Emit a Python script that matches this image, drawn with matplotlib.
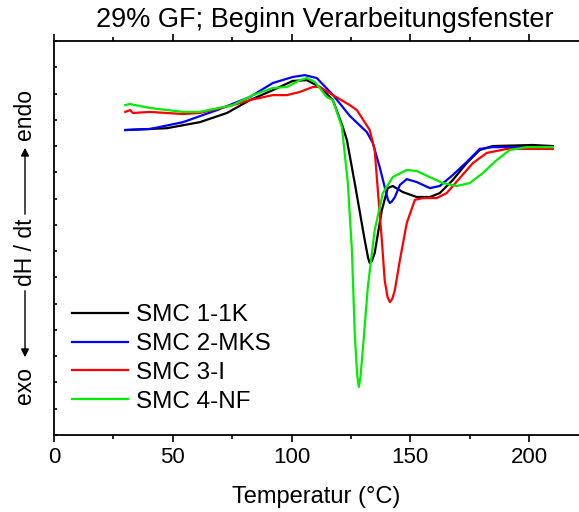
import matplotlib
matplotlib.use('Agg')
import matplotlib.pyplot as plt
import numpy as np

plt.rcParams['font.family'] = ['Liberation Sans', 'DejaVu Sans']

# DSC curves, temperature in °C and heat flow in arbitrary units
t_1k = [30, 47.5, 61.4, 72.8, 82.5, 92.1, 100.5, 106.4, 111.9, 117.4, 121.6, 123.3,
        126.6, 130.8, 132.2, 132.9, 133.8, 135.0, 138.0, 140.5, 142.6, 146.8, 152.7,
        158.2, 162.4, 167.9, 173.7, 179.2, 184.7, 201.5, 210]
y_1k = [11.61, 11.68, 11.91, 12.26, 12.75, 13.13, 13.48, 13.51, 13.25, 12.75, 11.72, 11.23,
        9.59, 7.42, 6.75, 6.55, 6.62, 6.93, 8.56, 9.40, 9.48, 9.25, 9.06,
        9.06, 9.21, 9.71, 10.35, 10.85, 11.00, 11.04, 11.00]

t_mks = [30, 40.4, 54.3, 68.6, 82.5, 92.1, 100.5, 105.6, 110.6, 117.4, 124.5, 131.7,
         134.2, 137.1, 139.2, 140.6, 141.4, 142.3, 143.5, 145.6, 148.5, 152.7, 158.2,
         162.4, 167.9, 173.7, 179.2, 184.7, 210]
y_mks = [11.61, 11.65, 11.91, 12.37, 12.87, 13.40, 13.63, 13.70, 13.59, 12.95, 12.15, 11.53,
         11.12, 10.20, 9.44, 8.95, 8.83, 8.90, 9.06, 9.52, 9.74, 9.63, 9.40,
         9.48, 9.90, 10.39, 10.89, 10.96, 10.96]

t_i = [30, 32.0, 33.2, 40.4, 54.3, 61.4, 75.3, 82.5, 92.1, 98.0, 103.5, 109.0, 111.9,
       117.4, 124.5, 127.5, 132.9, 135.0, 136.3, 138.0, 139.2, 140.4, 141.4, 142.4,
       143.5, 145.6, 148.5, 151.9, 155.2, 161.1, 165.3, 170.8, 176.3, 182.2, 190.6, 210]
y_i = [12.30, 12.37, 12.26, 12.30, 12.22, 12.26, 12.56, 12.75, 12.94, 12.94, 13.06, 13.25, 13.25,
       12.94, 12.56, 12.37, 11.61, 10.85, 9.33, 7.42, 5.90, 5.25, 5.06, 5.18,
       5.52, 6.66, 8.07, 8.95, 9.02, 9.02, 9.21, 9.78, 10.35, 10.74, 10.89, 10.89]

t_nf = [30, 32.0, 40.4, 54.3, 61.4, 75.3, 83.7, 92.1, 98.0, 103.5, 106.4, 109.8, 114.8,
        117.4, 121.2, 123.7, 125.4, 126.6, 127.6, 128.3, 129.0, 130.0, 132.1, 135.0,
        138.4, 142.6, 148.5, 152.7, 158.2, 163.7, 169.5, 175.0, 180.5, 186.4, 191.8,
        199.0, 210]
y_nf = [12.56, 12.60, 12.45, 12.30, 12.30, 12.56, 12.94, 13.21, 13.25, 13.51, 13.59, 13.44, 12.87,
        12.75, 11.72, 9.59, 7.04, 3.88, 2.30, 1.83, 2.20, 3.24, 5.63, 7.80,
        9.21, 9.82, 10.09, 10.05, 9.82, 9.59, 9.48, 9.59, 9.97, 10.47, 10.85,
        10.96, 10.96]

labels = ['SMC 1-1K', 'SMC 2-MKS', 'SMC 3-I', 'SMC 4-NF']
colors = ['black', '#0000ff', '#ff0000', '#00ee00']

fig = plt.figure(figsize=(5.79, 5.12), dpi=100)
ax = fig.add_axes([54 / 579, 1 - 435 / 512, 1 - 54 / 579, (435 - 41) / 512])

for t, y, lab, c in zip([t_1k, t_mks, t_i, t_nf], [y_1k, y_mks, y_i, y_nf], labels, colors):
    ax.plot(t, y, color=c, lw=1.6, label=lab)

ax.set_xlim(0, 221)
ax.set_ylim(0, 15)
ax.set_xticks([0, 50, 100, 150, 200])
ax.set_xticks([25, 75, 125, 175], minor=True)
ax.set_yticks(np.arange(0, 16, 1))
ax.set_yticklabels([])
ax.tick_params(axis='x', which='major', direction='out', length=5, width=1.2,
               labelsize=16, top=True)
ax.tick_params(axis='x', which='minor', direction='out', length=3, width=1.2, top=True)
ax.tick_params(axis='y', which='major', direction='in', length=2.5, width=1.2)
for s in ax.spines.values():
    s.set_linewidth(1.3)
ax.spines['right'].set_visible(False)

ax.set_xlabel('Temperatur (°C)', fontsize=17, labelpad=13)

# title and y label made of separate pieces with arrows
fig.text(325 / 579, 1 - 20 / 512, '29% GF; Beginn Verarbeitungsfenster',
         ha='center', va='center', fontsize=19.5)
fig.text(25 / 579, 1 - 115 / 512, 'endo', rotation=90, ha='center', va='center', fontsize=16.5)
fig.text(25 / 579, 1 - 252 / 512, 'dH / dt', rotation=90, ha='center', va='center', fontsize=16.5)
fig.text(25 / 579, 1 - 385 / 512, 'exo', rotation=90, ha='center', va='center', fontsize=16.5)
fig.patches.append(matplotlib.patches.FancyArrowPatch(
    (25 / 579, 1 - 217 / 512), (25 / 579, 1 - 145 / 512), transform=fig.transFigure,
    arrowstyle='-|>', mutation_scale=12, lw=1, color='black'))
fig.patches.append(matplotlib.patches.FancyArrowPatch(
    (25 / 579, 1 - 288 / 512), (25 / 579, 1 - 360 / 512), transform=fig.transFigure,
    arrowstyle='-|>', mutation_scale=12, lw=1, color='black'))

ax.legend(loc='center left', bbox_to_anchor=(72 / 579, 1 - 358.5 / 512),
          bbox_transform=fig.transFigure, frameon=False, fontsize=17.5,
          borderpad=0, borderaxespad=0, handlelength=2.3, handletextpad=0.35,
          labelspacing=0.28)

fig.savefig('out.png', dpi=100)
